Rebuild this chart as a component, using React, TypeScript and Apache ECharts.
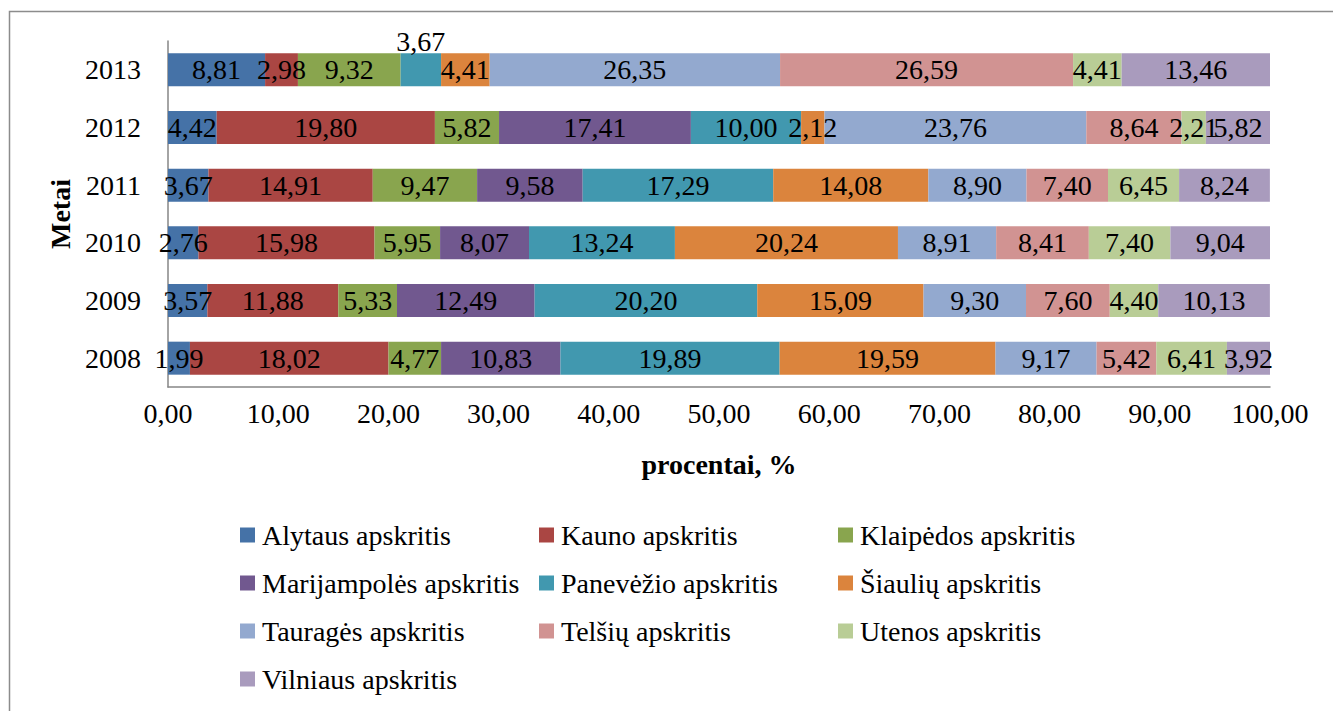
import React, { useEffect, useRef } from "react";
import * as echarts from "echarts";

const years = ["2008", "2009", "2010", "2011", "2012", "2013"];
const seriesNames = [
  "Alytaus apskritis",
  "Kauno apskritis",
  "Klaipėdos apskritis",
  "Marijampolės apskritis",
  "Panevėžio apskritis",
  "Šiaulių apskritis",
  "Tauragės apskritis",
  "Telšių apskritis",
  "Utenos apskritis",
  "Vilniaus apskritis",
];
const alytaus = [1.99, 3.57, 2.76, 3.67, 4.42, 8.81];
const kauno = [18.02, 11.88, 15.98, 14.91, 19.8, 2.98];
const klaipedos = [4.77, 5.33, 5.95, 9.47, 5.82, 9.32];
const marijampoles = [10.83, 12.49, 8.07, 9.58, 17.41, null];
const panevezio = [19.89, 20.2, 13.24, 17.29, 10.0, 3.67];
const siauliu = [19.59, 15.09, 20.24, 14.08, 2.12, 4.41];
const taurages = [9.17, 9.3, 8.91, 8.9, 23.76, 26.35];
const telsiu = [5.42, 7.6, 8.41, 7.4, 8.64, 26.59];
const utenos = [6.41, 4.4, 7.4, 6.45, 2.21, 4.41];
const vilniaus = [3.92, 10.13, 9.04, 8.24, 5.82, 13.46];
const seriesValues = [alytaus, kauno, klaipedos, marijampoles, panevezio, siauliu, taurages, telsiu, utenos, vilniaus];
const colors = ["#4572A7", "#AA4643", "#89A54E", "#71588F", "#4198AF", "#DB843D", "#93A9CF", "#D19392", "#B9CD96", "#A99BBD"];
const xTicks = { min: 0, max: 100, interval: 10 };
// labels drawn above the bar (too narrow inside)
const labelsAbove = [{ series: "Panevėžio apskritis", year: "2013" }];

const legendColumns = [
  ["Alytaus apskritis", "Marijampolės apskritis", "Tauragės apskritis", "Vilniaus apskritis"],
  ["Kauno apskritis", "Panevėžio apskritis", "Telšių apskritis"],
  ["Klaipėdos apskritis", "Šiaulių apskritis", "Utenos apskritis"],
];

const FONT = "'Liberation Serif', 'Times New Roman', serif";
const fmt = (v: number) => v.toFixed(2).replace(".", ",");

export default function App() {
  const ref = useRef<HTMLDivElement>(null);
  useEffect(() => {
    if (!ref.current) return;
    const chart = echarts.init(ref.current, undefined, { renderer: "svg" });
    const legendLefts = [235, 534, 833];
    const option: any = {
      animation: false,
      color: colors,
      textStyle: { fontFamily: FONT },
      graphic: [
        {
          type: "rect",
          shape: { x: 9.5, y: 11.5, width: 1400, height: 800 },
          style: { fill: "none", stroke: "#8c8c8c", lineWidth: 1.5 },
          silent: true,
        },
      ],
      grid: { left: 168, right: 63, top: 41, bottom: 324, containLabel: false },
      legend: legendColumns.map((col, i) => ({
        orient: "vertical",
        left: legendLefts[i],
        top: 515,
        data: col,
        icon: "rect",
        itemWidth: 15,
        itemHeight: 15,
        itemGap: 18,
        selectedMode: false,
        textStyle: { fontFamily: FONT, fontSize: 28, color: "#000", lineHeight: 30, padding: [0, 0, 0, 2] },
      })),
      xAxis: {
        type: "value",
        min: xTicks.min,
        max: xTicks.max,
        interval: xTicks.interval,
        splitLine: { show: false },
        axisTick: { show: false },
        axisLine: { show: true, lineStyle: { color: "#868686", width: 1.5 } },
        axisLabel: { fontFamily: FONT, fontSize: 28, color: "#000", margin: 12, formatter: (v: number) => fmt(v) },
        name: "procentai, %",
        nameLocation: "middle",
        nameGap: 63,
        nameTextStyle: { fontFamily: FONT, fontSize: 28, fontWeight: "bold", color: "#000" },
      },
      yAxis: {
        type: "category",
        data: years,
        axisTick: { show: false },
        axisLine: { show: true, lineStyle: { color: "#868686", width: 1.5 } },
        axisLabel: { fontFamily: FONT, fontSize: 28, color: "#000", margin: 27 },
        name: "Metai",
        nameLocation: "middle",
        nameGap: 92,
        nameRotate: 90,
        nameTextStyle: { fontFamily: FONT, fontSize: 28, fontWeight: "bold", color: "#000" },
      },
      series: seriesNames.map((name, si) => ({
        name,
        type: "bar",
        stack: "total",
        barWidth: 33,
        itemStyle: { color: colors[si] },
        label: {
          show: true,
          position: "inside",
          fontFamily: FONT,
          fontSize: 28,
          color: "#000",
          formatter: (p: any) => (p.value == null ? "" : fmt(p.value)),
        },
        data: seriesValues[si].map((v, yi) => {
          const above = labelsAbove.some((l) => l.series === name && l.year === years[yi]);
          if (v == null) return null;
          return above ? { value: v, label: { position: "top", distance: -2 } } : v;
        }),
      })),
    };
    chart.setOption(option);
    return () => chart.dispose();
  }, []);
  return <div ref={ref} style={{ position: "absolute", left: 0, top: 0, width: 1333, height: 711 }} />;
}
